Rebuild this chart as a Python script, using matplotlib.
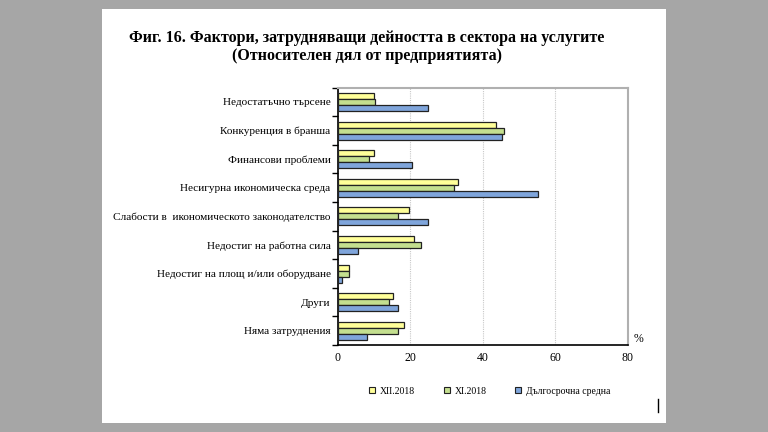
import numpy as np
import matplotlib
matplotlib.use("Agg")
import matplotlib.pyplot as plt
from matplotlib.patches import Rectangle
from matplotlib.lines import Line2D

plt.rcParams['font.family'] = ['Liberation Serif', 'DejaVu Serif']

categories = [
    "Недостатъчно търсене",
    "Конкуренция в бранша",
    "Финансови проблеми",
    "Несигурна икономическа среда",
    "Слабости в  икономическото законодателство",
    "Недостиг на работна сила",
    "Недостиг на площ и/или оборудване",
    "Други",
    "Няма затруднения",
]
series_names = ["XII.2018", "XI.2018", "Дългосрочна средна"]
dec_2018 = [10.1, 43.6, 10.0, 33.1, 19.6, 21.2, 3.3, 15.2, 18.3]
nov_2018 = [10.3, 45.8, 8.7, 32.0, 16.6, 22.9, 3.2, 14.1, 16.6]
long_avg = [24.9, 45.4, 20.4, 55.3, 25.0, 5.7, 1.2, 16.7, 8.0]
x_ticks = [0, 20, 40, 60, 80]

colors = ["#ffff99", "#c4df8f", "#7fa5db"]

fig = plt.figure(figsize=(7.68, 4.32), dpi=100, facecolor="#a6a6a6")
# white page behind the chart
fig.patches.append(Rectangle((102 / 768, 1 - 423 / 432), 564 / 768, 414 / 432,
                             transform=fig.transFigure, facecolor="white",
                             edgecolor="none", zorder=-5))

ax = fig.add_axes([337.5 / 768, 1 - 345 / 432, 290.5 / 768, 257.3 / 432])
ax.set_facecolor("white")

y = np.arange(len(categories))
h = 0.21
for k, vals in enumerate([dec_2018, nov_2018, long_avg]):
    ax.barh(y + (k - 1) * h, vals, height=h, color=colors[k],
            edgecolor="#222222", linewidth=0.9, label=series_names[k], zorder=3)

ax.set_ylim(len(categories) - 0.5, -0.5)
ax.set_xlim(0, 80)
ax.set_xticks(x_ticks)
ax.set_xticklabels([str(t) for t in x_ticks], fontsize=8.5)
ax.tick_params(axis="x", length=0, pad=5)

ax.set_yticks(y)
ax.set_yticklabels(categories, fontsize=8.1)
ax.tick_params(axis="y", which="major", length=0, pad=5)
ax.set_yticks(np.arange(-0.5, len(categories)), minor=True)
ax.tick_params(axis="y", which="minor", length=4, width=1, direction="out")

ax.grid(axis="x", color="#c8c8c8", linestyle=(0, (1, 1)), linewidth=0.8, zorder=0)
for side in ["left", "bottom"]:
    ax.spines[side].set_color("black")
    ax.spines[side].set_linewidth(1.2)
for side in ["top", "right"]:
    ax.spines[side].set_color("#b0b0b0")
    ax.spines[side].set_linewidth(1.5)

ax.text(1.02, 0.0, "%", transform=ax.transAxes, fontsize=8.5, ha="left", va="bottom")

fig.text(367 / 768, 1 - 38 / 432, "Фиг. 16. Фактори, затрудняващи дейността в сектора на услугите",
         ha="center", va="center", fontsize=11.5, fontweight="bold")
fig.text(367 / 768, 1 - 56 / 432, "(Относителен дял от предприятията)",
         ha="center", va="center", fontsize=11.5, fontweight="bold")

handles = [Line2D([], [], marker="s", linestyle="none", markersize=4,
                  markerfacecolor=c, markeredgecolor="#222222", markeredgewidth=0.8)
           for c in colors]
fig.legend(handles, series_names, loc="center", ncol=3,
           bbox_to_anchor=(489 / 768, 1 - 391 / 432), frameon=False,
           fontsize=7, handletextpad=0.3, columnspacing=2.75, handlelength=1)

# small vertical mark at the bottom right of the page
fig.add_artist(Line2D([658 / 768, 658 / 768], [1 - 412 / 432, 1 - 399 / 432],
                      transform=fig.transFigure, color="black", linewidth=1))

fig.savefig("out.png", dpi=100, facecolor=fig.get_facecolor())
